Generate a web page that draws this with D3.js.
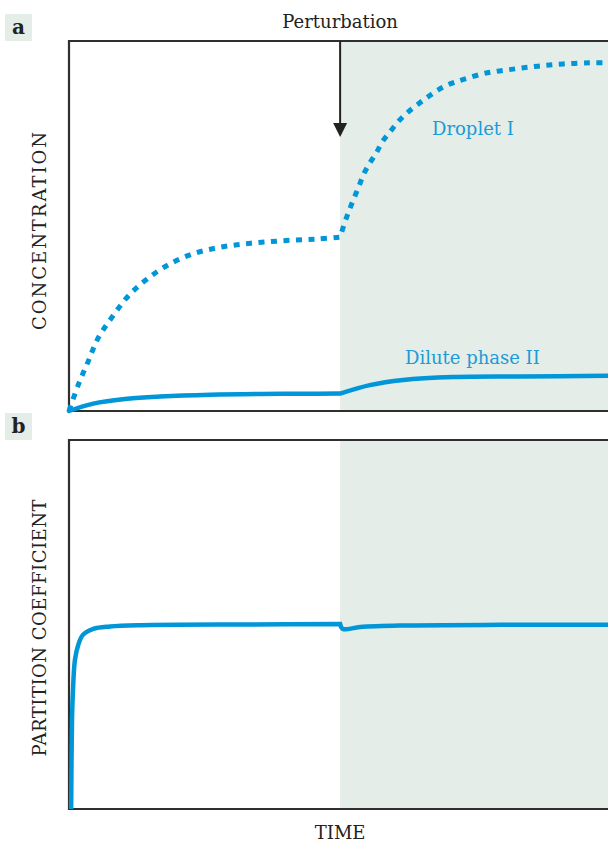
<!DOCTYPE html>
<html>
<head>
<meta charset="utf-8">
<script src="https://cdn.jsdelivr.net/npm/d3@7"></script>
<style>
  html, body { margin: 0; padding: 0; background: #fff; }
  svg { display: block; }
  text { font-family: "DejaVu Serif", "Liberation Serif", serif; }
</style>
</head>
<body>
<svg id="chart" width="608" height="844"></svg>
<script>
// Time runs 0..100 (arbitrary units); the perturbation happens part-way through.
const perturbationTime = 50.3;

// Panel a: concentration in the droplet (dotted) and dilute phase (solid)
const dropletTime = [0, 1.7, 3.5, 5.4, 8.0, 11.0, 14.5, 18.4, 22.8, 27.5, 32.1, 36.7, 41.6, 46.2, 50.3,
  51.2, 52.0, 52.9, 53.8, 54.7, 55.8, 57.0, 58.1, 59.7, 61.2, 62.9, 64.8, 66.6, 68.5, 70.7, 72.9,
  77.6, 82.4, 87.0, 91.7, 96.7, 100];
const dropletConc = [0, 7.0, 13.2, 19.7, 25.4, 31.1, 35.7, 39.5, 42.4, 44.1, 45.1, 45.7, 46.2, 46.5, 47.0,
  51.1, 54.3, 57.6, 60.8, 64.1, 67.0, 69.7, 72.7, 75.7, 78.4, 80.8, 83.0, 84.9, 86.8, 88.4, 89.5,
  91.4, 92.4, 93.2, 93.8, 94.1, 94.1];

const diluteTime = [0, 4.5, 10.8, 16.9, 26.2, 35.4, 42.7, 50.3, 55.8, 62.0, 71.2, 83.7, 100];
const diluteConc = [0, 2.0, 3.3, 3.9, 4.4, 4.6, 4.65, 4.7, 7.0, 8.4, 9.2, 9.35, 9.5];

// Panel b: partition coefficient
const partitionTime = [0.4, 0.56, 0.74, 1.1, 1.7, 2.6, 4.5, 7.6, 13.2, 33.6, 50.3, 50.8, 54.0, 61.4, 80.0, 100];
const partitionValue = [0, 24.1, 32.2, 40.4, 44.4, 47.2, 48.8, 49.45, 49.8, 50.0, 50.1, 48.8, 49.3, 49.7, 49.9, 49.9];

const panelLabels = ["a", "b"];
const yTitles = ["CONCENTRATION", "PARTITION COEFFICIENT"];
const xTitle = "TIME";
const perturbationLabel = "Perturbation";
const seriesLabels = ["Droplet I", "Dilute phase II"];

const blue = "#0096d8";
const labelBlue = "#1b9bd7";
const shade = "#e4ede8";
const ink = "#2f2f2f";

const svg = d3.select("#chart");

const left = 69, right = 608;
const panels = [
  { top: 41, bottom: 411, titleY: 231, titleLen: 198 },
  { top: 440, bottom: 809, titleY: 628, titleLen: 257 }
];

const x = d3.scaleLinear().domain([0, 100]).range([left, right]);
const yA = d3.scaleLinear().domain([0, 100]).range([panels[0].bottom, panels[0].top]);
const yB = d3.scaleLinear().domain([0, 100]).range([panels[1].bottom, panels[1].top]);

// Shaded region after the perturbation, and the open-right frame
panels.forEach((p, i) => {
  svg.append("rect")
    .attr("x", x(perturbationTime)).attr("y", p.top)
    .attr("width", right - x(perturbationTime)).attr("height", p.bottom - p.top)
    .attr("fill", shade);
  svg.append("path")
    .attr("d", `M${right},${p.top}H${left}V${p.bottom}H${right}`)
    .attr("fill", "none").attr("stroke", ink).attr("stroke-width", 2.2);

  // panel letter
  svg.append("rect").attr("x", 5).attr("y", p.top - 27).attr("width", 27).attr("height", 27).attr("fill", shade);
  svg.append("text").attr("x", 18.5).attr("y", p.top - 7)
    .attr("text-anchor", "middle").attr("font-size", 20).attr("font-weight", "bold").attr("fill", "#222")
    .text(panelLabels[i]);

  // y title
  svg.append("text")
    .attr("transform", `translate(46,${p.titleY}) rotate(-90)`)
    .attr("text-anchor", "middle").attr("font-size", 18).attr("fill", "#222")
    .attr("textLength", p.titleLen).attr("lengthAdjust", "spacing")
    .text(yTitles[i]);
});

// Smooth each side of the perturbation separately so the corner stays sharp,
// then join both halves into one continuous path.
function splitLine(yScale, times, values) {
  const pts = d3.zip(times, values);
  const before = pts.filter(d => d[0] <= perturbationTime);
  const after = pts.filter(d => d[0] >= perturbationTime);
  const gen = d3.line().x(d => x(d[0])).y(d => yScale(d[1])).curve(d3.curveCatmullRom.alpha(0.5));
  return gen(before) + gen(after).replace(/^M/, "L");
}

svg.append("path")
  .attr("d", splitLine(yA, dropletTime, dropletConc))
  .attr("fill", "none").attr("stroke", blue).attr("stroke-width", 5)
  .attr("stroke-dasharray", "6,6.5");

svg.append("path")
  .attr("d", splitLine(yA, diluteTime, diluteConc))
  .attr("fill", "none").attr("stroke", blue).attr("stroke-width", 4.5)
  .attr("stroke-linecap", "round");

svg.append("path")
  .attr("d", splitLine(yB, partitionTime, partitionValue))
  .attr("fill", "none").attr("stroke", blue).attr("stroke-width", 4.5);

// Series labels
svg.append("text").attr("x", 432).attr("y", 135)
  .attr("font-size", 18).attr("fill", labelBlue).text(seriesLabels[0]);
svg.append("text").attr("x", 405).attr("y", 364)
  .attr("font-size", 18).attr("fill", labelBlue).text(seriesLabels[1]);

// Perturbation arrow
const px = x(perturbationTime);
svg.append("text").attr("x", px).attr("y", 28)
  .attr("text-anchor", "middle").attr("font-size", 18).attr("fill", "#222").text(perturbationLabel);
svg.append("line").attr("x1", px).attr("x2", px).attr("y1", panels[0].top).attr("y2", 126)
  .attr("stroke", "#222").attr("stroke-width", 2);
svg.append("path")
  .attr("d", `M${px - 7},${123}L${px + 7},${123}L${px},${137}Z`)
  .attr("fill", "#222");

// x title
svg.append("text").attr("x", px).attr("y", 839)
  .attr("text-anchor", "middle").attr("font-size", 18).attr("fill", "#222").text(xTitle);
</script>
</body>
</html>
